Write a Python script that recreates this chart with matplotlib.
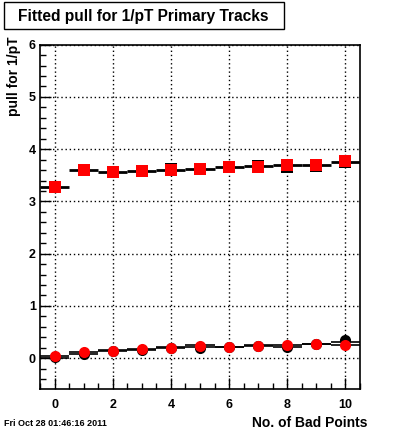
import numpy as np
import matplotlib
matplotlib.use('Agg')
import matplotlib.pyplot as plt
from matplotlib.patches import Rectangle
from matplotlib.ticker import MultipleLocator

plt.rcParams['font.family'] = ['Liberation Sans', 'DejaVu Sans']
plt.rcParams['font.weight'] = 'bold'

# number of bad points (bin centres)
bad_points = np.arange(0, 11)

# upper group: squares
sq_red = [3.27, 3.60, 3.56, 3.58, 3.60, 3.62, 3.66, 3.66, 3.69, 3.69, 3.77]
sq_black = [3.27, 3.60, 3.57, 3.58, 3.62, 3.62, 3.66, 3.67, 3.66, 3.67, 3.75]
sq_hist = [3.27, 3.60, 3.57, 3.58, 3.61, 3.62, 3.66, 3.68, 3.69, 3.69, 3.76]

# lower group: circles
ci_red = [0.05, 0.12, 0.14, 0.17, 0.20, 0.24, 0.22, 0.24, 0.26, 0.28, 0.26]
ci_black = [0.02, 0.08, 0.14, 0.15, 0.19, 0.20, 0.22, 0.24, 0.21, 0.28, 0.34]
ci_hist_a = [0.05, 0.12, 0.15, 0.17, 0.21, 0.25, 0.22, 0.25, 0.26, 0.28, 0.26]
ci_hist_b = [0.01, 0.08, 0.14, 0.16, 0.19, 0.21, 0.22, 0.24, 0.22, 0.28, 0.31]

fig = plt.figure(figsize=(4.00, 4.33), dpi=100)
ax = fig.add_axes([0.1, 0.1016, 0.8, 0.7952])

# histogram-like horizontal bars (one per bin)
ax.hlines(sq_hist, bad_points - 0.5, bad_points + 0.5, colors='black', lw=2, zorder=2)
ax.hlines(ci_hist_a, bad_points - 0.5, bad_points + 0.5, colors='black', lw=1.2, zorder=2)
ax.hlines(ci_hist_b, bad_points - 0.5, bad_points + 0.5, colors='black', lw=1.2, zorder=2)

ax.plot(bad_points, sq_black, 's', color='black', ms=8.5, mew=0, zorder=3)
ax.plot(bad_points, sq_red, 's', color='red', ms=8.5, mew=0, zorder=4)
ax.plot(bad_points, ci_black, 'o', color='black', ms=8, mew=0, zorder=3)
ax.plot(bad_points, ci_red, 'o', color='red', ms=8, mew=0, zorder=4)

ax.set_xlim(-0.5, 10.5)
ax.set_ylim(-0.59, 6)
ax.xaxis.set_major_locator(MultipleLocator(2))
ax.xaxis.set_minor_locator(MultipleLocator(0.5))
ax.yaxis.set_major_locator(MultipleLocator(1))
ax.yaxis.set_minor_locator(MultipleLocator(0.2))
ax.tick_params(which='both', direction='in', top=False, right=False,
               labelsize=9, width=1)
ax.tick_params(axis='x', pad=7)
ax.tick_params(axis='y', pad=3)
ax.tick_params(which='major', length=8)
ax.tick_params(which='minor', length=4)
for lab in ax.get_xticklabels() + ax.get_yticklabels():
    lab.set_fontweight('bold')
ax.grid(True, which='major', ls=(0, (1, 2)), color='black', lw=1)
for sp in ax.spines.values():
    sp.set_linewidth(1.2)

fig.text(367 / 400, 1 - 423 / 433, 'No. of Bad Points', ha='right', va='center',
         fontsize=10, fontweight='bold')
fig.text(14 / 400, 1 - 36 / 433, 'pull for 1/pT', ha='center', va='top',
         rotation=90, fontsize=10, fontweight='bold')
fig.text(4 / 400, 1 - 424 / 433, 'Fri Oct 28 01:46:16 2011', ha='left', va='center',
         fontsize=6.5, fontweight='bold')

# title box
fig.patches.append(Rectangle((4 / 400, 1 - 29 / 433), 280 / 400, 27 / 433,
                             transform=fig.transFigure, fill=False,
                             edgecolor='black', lw=1))
fig.text(143 / 400, 1 - 16 / 433, 'Fitted pull for 1/pT Primary Tracks',
         ha='center', va='center', fontsize=11.2, fontweight='bold')

fig.savefig('out.png', dpi=100)
